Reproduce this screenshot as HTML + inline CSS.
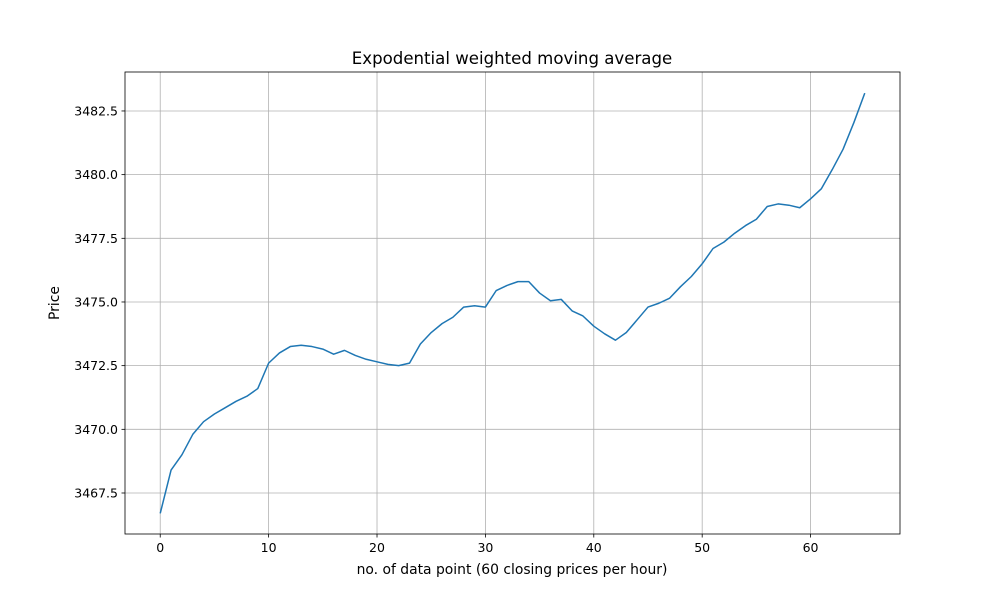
<!DOCTYPE html>
<html><head><meta charset="utf-8"><style>
body{margin:0;background:#fff;font-family:"DejaVu Sans","Liberation Sans",sans-serif;}
svg text{font-family:"DejaVu Sans","Liberation Sans",sans-serif;fill:#000;}
</style></head><body>
<svg id="chart" width="1000" height="600" xmlns="http://www.w3.org/2000/svg">
<rect width="1000" height="600" fill="#fff"/>
<g id="grid"></g>
<g id="ticks"></g>
<path id="line" fill="none" stroke="#1f77b4" stroke-width="1.5" stroke-linejoin="round"/>
<rect x="125" y="72" width="775" height="462" fill="none" stroke="#000" stroke-width="0.8"/>
<text x="512" y="64" font-size="16.6" text-anchor="middle">Expodential weighted moving average</text>
<text x="512" y="574" font-size="13.9" text-anchor="middle">no. of data point (60 closing prices per hour)</text>
<text x="59" y="303" font-size="13.9" text-anchor="middle" transform="rotate(-90 59 303)">Price</text>
</svg>
<script>
const values=[3466.7,3468.4,3469.0,3469.8,3470.3,3470.6,3470.85,3471.1,3471.3,3471.6,3472.6,3473.0,3473.25,3473.3,3473.25,3473.15,3472.95,3473.1,3472.9,3472.75,3472.65,3472.55,3472.5,3472.6,3473.35,3473.8,3474.15,3474.4,3474.8,3474.85,3474.8,3475.45,3475.65,3475.8,3475.8,3475.35,3475.05,3475.1,3474.65,3474.45,3474.05,3473.75,3473.5,3473.8,3474.3,3474.8,3474.95,3475.15,3475.6,3476.0,3476.5,3477.1,3477.35,3477.7,3478.0,3478.25,3478.75,3478.85,3478.8,3478.7,3479.05,3479.45,3480.2,3481.0,3482.05,3483.2];
const xTicks=[0,10,20,30,40,50,60];
const yTicks=[3467.5,3470.0,3472.5,3475.0,3477.5,3480.0,3482.5];
const L=125,R=900,T=72,B=534;
const xMin=-3.25,xMax=68.25,yMin=3465.89,yMax=3484.03;
const sx=v=>L+(v-xMin)/(xMax-xMin)*(R-L);
const sy=v=>B-(v-yMin)/(yMax-yMin)*(B-T);
const NS="http://www.w3.org/2000/svg";
const grid=document.getElementById('grid'),ticks=document.getElementById('ticks');
function mk(tag,attrs,parent,txt){const e=document.createElementNS(NS,tag);for(const k in attrs)e.setAttribute(k,attrs[k]);if(txt!==undefined)e.textContent=txt;parent.appendChild(e);return e;}
xTicks.forEach(t=>{const x=sx(t);
 const g=mk('line',{x1:x,x2:x,y1:T,y2:B,stroke:'#b0b0b0','stroke-width':0.8},grid);
 
 
 mk('line',{x1:x,x2:x,y1:B,y2:B+3.5,stroke:'#000','stroke-width':0.8},ticks);
 const lb=mk('text',{x:x,y:B+18,'font-size':12.5,'text-anchor':'middle'},ticks,String(t));
 
 
});
yTicks.forEach(t=>{const y=sy(t);
 const g=mk('line',{x1:L,x2:R,y1:y,y2:y,stroke:'#b0b0b0','stroke-width':0.8},grid);
 
 
 mk('line',{x1:L-3.5,x2:L,y1:y,y2:y,stroke:'#000','stroke-width':0.8},ticks);
 const lb=mk('text',{x:L-7,y:y+4.5,'font-size':12.5,'text-anchor':'end'},ticks,t.toFixed(1));
 
 
});
document.getElementById('line').setAttribute('d',values.map((v,i)=>(i?'L':'M')+sx(i).toFixed(2)+' '+sy(v).toFixed(2)).join(' '));
</script>
</body></html>
